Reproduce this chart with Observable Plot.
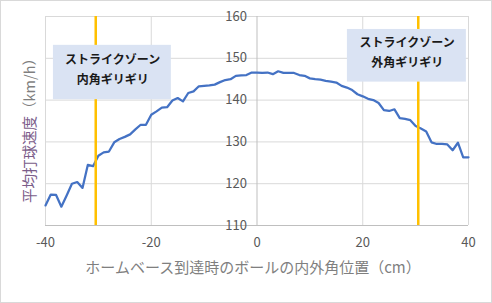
<!DOCTYPE html>
<html>
<head>
<meta charset="utf-8">
<script src="https://cdn.jsdelivr.net/npm/d3@7"></script>
<script src="https://cdn.jsdelivr.net/npm/@observablehq/plot@0.6"></script>
<style>
  html, body { margin: 0; padding: 0; background: #fff; }
  #chart svg { display: block; outline: 1px solid #d9d9d9; outline-offset: -1px; }
</style>
</head>
<body>
<div id="chart"></div>
<script>
// Ball position at home plate (cm)
const positions = d3.range(-40, 41);
// Average exit velocity (km/h)
const speeds = [
  114.8, 117.4, 117.3, 114.5, 117.2, 120.0, 120.4, 119.0, 124.5, 124.2,
  126.7, 127.5, 127.7, 129.9, 130.7, 131.2, 131.8, 133.0, 134.1, 134.1,
  136.5, 137.3, 138.2, 138.3, 139.9, 140.5, 139.7, 141.7, 142.1, 143.3,
  143.4, 143.5, 143.7, 144.3, 144.8, 145.0, 145.8, 145.9, 146.0, 146.6,
  146.6, 146.5, 146.6, 146.2, 146.9, 146.5, 146.5, 146.5, 146.0, 145.8,
  145.2, 145.0, 144.9, 144.6, 144.4, 144.2, 143.4, 143.0, 142.4, 141.4,
  140.9, 140.3, 140.0, 139.3, 137.6, 137.4, 137.8, 135.7, 135.5, 135.2,
  133.8, 133.2, 132.5, 129.9, 129.5, 129.5, 129.4, 128.0, 129.8, 126.3,
  126.3
];
const xTicks = [-40, -20, 0, 20, 40];
const yTicks = [110, 120, 130, 140, 150, 160];
const zoneEdges = [-30.5, 30.5];
const boxLine1 = ["ストライクゾーン", "ストライクゾーン"];
const boxLine2 = ["内角ギリギリ", "外角ギリギリ"];
const xTitle = "ホームベース到達時のボールの内外角位置（cm）";
const yTitleMain = "平均打球速度";
const yTitleUnit = "（km/h）";

// annotation box placement (data units)
const boxes = [
  {x1: -38.5, x2: -16.2, y1: 140.1, y2: 153.1, tx: -27.3, ty1: 149.5, ty2: 144.7, l1: boxLine1[0], l2: boxLine2[0]},
  {x1: 17.1, x2: 39.6, y1: 144.3, y2: 156.9, tx: 28.4, ty1: 153.7, ty2: 148.9, l1: boxLine1[1], l2: boxLine2[1]}
];

const data = positions.map((p, i) => ({p, v: speeds[i]}));
const font = "'Noto Sans CJK JP', 'Noto Sans', sans-serif";

const chart = Plot.plot({
  width: 492,
  height: 303,
  marginLeft: 45,
  marginRight: 24,
  marginTop: 16,
  marginBottom: 78,
  x: {domain: [-40, 40], axis: null},
  y: {domain: [110, 160], axis: null},
  style: {fontFamily: font, background: "#fff", overflow: "visible"},
  marks: [
    Plot.ruleX(xTicks.filter(d => d !== 0), {stroke: "#d9d9d9", strokeWidth: 1}),
    Plot.ruleY(yTicks.filter(d => d !== 110), {stroke: "#d9d9d9", strokeWidth: 1}),
    Plot.ruleX([0], {stroke: "#bfbfbf", strokeWidth: 1}),
    Plot.ruleY([110], {stroke: "#bfbfbf", strokeWidth: 1}),
    Plot.line(data, {x: "p", y: "v", stroke: "#4472c4", strokeWidth: 2.25, strokeLinejoin: "round"}),
    Plot.ruleX(zoneEdges, {stroke: "#ffc000", strokeWidth: 2.5}),
    Plot.rect(boxes, {x1: "x1", x2: "x2", y1: "y1", y2: "y2", fill: "#dae3f3"}),
    Plot.text(boxes, {x: "tx", y: "ty1", text: "l1", fontWeight: "bold", fontSize: 12, fill: "#1a1a1a"}),
    Plot.text(boxes, {x: "tx", y: "ty2", text: "l2", fontWeight: "bold", fontSize: 12, fill: "#1a1a1a"}),
    Plot.text(xTicks, {x: d => d, frameAnchor: "bottom", dy: 21, text: d => String(d), fontSize: 13, fill: "#595959"}),
    Plot.text(yTicks, {x: 0, y: d => d, dx: -10, textAnchor: "end", text: d => String(d), fontSize: 13, fill: "#595959"}),
    Plot.text([xTitle], {frameAnchor: "bottom", dy: 47, dx: -4, text: d => d, fontSize: 15, fill: "#7f7f7f"}),
    Plot.text([yTitleMain + yTitleUnit], {frameAnchor: "left", textAnchor: "middle", dx: -15, dy: 6, rotate: -90, text: d => d, fontSize: 14.5, fill: "#7f7f7f"})
  ]
});

document.getElementById("chart").appendChild(chart);

// color the main part of the y title like the reference
d3.select(chart).selectAll("text").each(function() {
  const t = d3.select(this);
  if (t.text() === yTitleMain + yTitleUnit) {
    t.text(null);
    t.append("tspan").attr("fill", "#7b5d8a").text(yTitleMain);
    t.append("tspan").attr("fill", "#7f7f7f").text(yTitleUnit);
  }
});
</script>
</body>
</html>
